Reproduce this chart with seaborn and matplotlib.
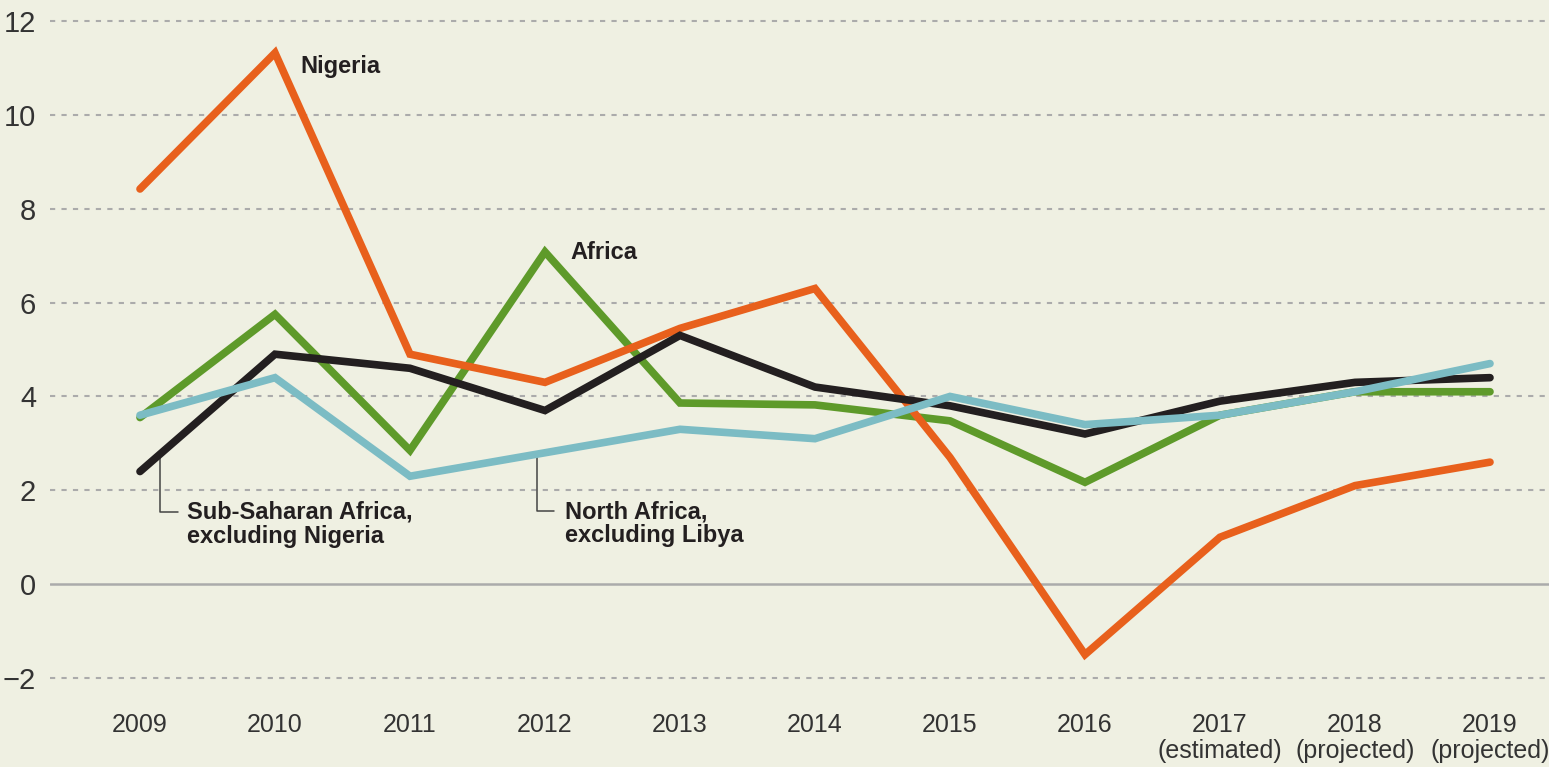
import matplotlib
matplotlib.use("Agg")
import matplotlib.pyplot as plt
import seaborn as sns
import pandas as pd
import numpy as np
from matplotlib import font_manager

years = ["2009", "2010", "2011", "2012", "2013", "2014", "2015", "2016", "2017", "2018", "2019"]
year_labels = ["2009", "2010", "2011", "2012", "2013", "2014", "2015", "2016",
               "2017\n(estimated)", "2018\n(projected)", "2019\n(projected)"]
nigeria = [8.42, 11.32, 4.9, 4.3, 5.45, 6.3, 2.7, -1.5, 1.0, 2.1, 2.6]
africa = [3.55, 5.75, 2.85, 7.08, 3.86, 3.82, 3.48, 2.17, 3.6, 4.1, 4.1]
ssa_ex_nigeria = [2.4, 4.9, 4.6, 3.7, 5.3, 4.2, 3.8, 3.2, 3.9, 4.3, 4.4]
north_africa_ex_libya = [3.6, 4.4, 2.3, 2.8, 3.3, 3.1, 4.0, 3.4, 3.6, 4.1, 4.7]
y_ticks = [-2, 0, 2, 4, 6, 8, 10, 12]

series = {
    "Africa": africa,
    "Nigeria": nigeria,
    "Sub-Saharan Africa, excluding Nigeria": ssa_ex_nigeria,
    "North Africa, excluding Libya": north_africa_ex_libya,
}
colors = {
    "Africa": "#5E9A2A",
    "Nigeria": "#E8601C",
    "Sub-Saharan Africa, excluding Nigeria": "#231F20",
    "North Africa, excluding Libya": "#7CBCC4",
}

rows = []
for name, vals in series.items():
    for i, v in enumerate(vals):
        rows.append({"series": name, "idx": i, "value": v})
df = pd.DataFrame(rows)

sns.set_theme(style="white")
avail = {f.name for f in font_manager.fontManager.ttflist}
fam = "Liberation Sans Narrow" if "Liberation Sans Narrow" in avail else "Liberation Sans"
plt.rcParams["font.family"] = [fam, "DejaVu Sans"]

bg = "#EFF0E2"
fig = plt.figure(figsize=(15.49, 7.67), dpi=100, facecolor=bg)
ax = fig.add_axes([50 / 1549, 1 - 701.5 / 767, 1 - 50 / 1549, (701.5 - 6.9) / 767])
ax.set_facecolor(bg)

for y in y_ticks:
    if y == 0:
        ax.axhline(0, color="#ABABAB", lw=1.8, zorder=1)
    else:
        ax.axhline(y, color="#ABABAB", lw=1.5, ls=(0, (2.5, 3)), zorder=1)

sns.lineplot(data=df, x="idx", y="value", hue="series", palette=colors,
             hue_order=list(series.keys()), linewidth=5.5, legend=False, ax=ax,
             zorder=3)
for line in ax.get_lines():
    line.set_solid_capstyle("round")
    line.set_solid_joinstyle("miter")

ax.set_xlim(-90 / 135, 10 + 59 / 135)
ax.set_ylim(-2.5, 12.3)
ax.set_xticks(range(len(years)))
ax.set_xticklabels(year_labels, fontsize=18, color="#333333", linespacing=1.1, va="top")
ax.set_yticks(y_ticks)
ax.set_yticklabels(["\u22122" if t < 0 else str(t) for t in y_ticks], fontsize=21, color="#333333")
ax.tick_params(axis="both", length=0)
ax.tick_params(axis="x", pad=8)
ax.tick_params(axis="y", pad=10)
for s in ax.spines.values():
    s.set_visible(False)
ax.set_xlabel("")
ax.set_ylabel("")

tkw = dict(fontsize=17, color="#231F20", fontweight="bold")
ax.text(1.185, 11.04, "Nigeria", va="center", ha="left", **tkw)
ax.text(3.185, 7.07, "Africa", va="center", ha="left", **tkw)
ax.text(0.348, 1.28, "Sub-Saharan Africa,\nexcluding Nigeria", va="center", ha="left",
        linespacing=1.05, **tkw)
ax.text(3.15, 1.29, "North Africa,\nexcluding Libya", va="center", ha="left",
        linespacing=1.05, **tkw)
ax.plot([0.148, 0.148, 0.28], [2.75, 1.53, 1.53], color="#444444", lw=1.1, zorder=2)
ax.plot([2.94, 2.94, 3.07], [2.81, 1.56, 1.56], color="#444444", lw=1.1, zorder=2)

fig.savefig("out.png", dpi=100, facecolor=bg)
